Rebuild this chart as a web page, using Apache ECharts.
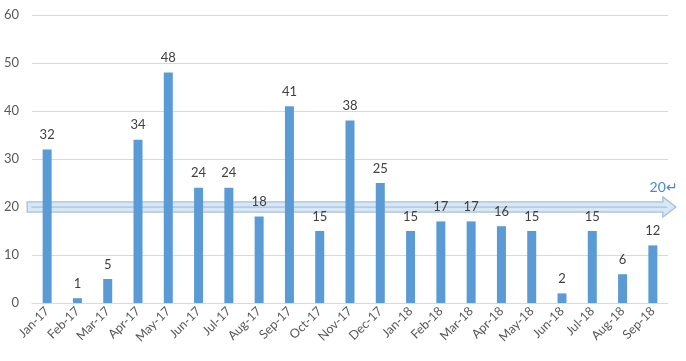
<!DOCTYPE html>
<html><head><meta charset="utf-8">
<script src="https://cdn.jsdelivr.net/npm/echarts@6/dist/echarts.min.js"></script>
<style>html,body{margin:0;padding:0;background:#fff}#c{width:686px;height:361px}</style>
</head><body><div id="c"></div>
<script>
const categories = ["Jan-17","Feb-17","Mar-17","Apr-17","May-17","Jun-17","Jul-17","Aug-17","Sep-17","Oct-17","Nov-17","Dec-17","Jan-18","Feb-18","Mar-18","Apr-18","May-18","Jun-18","Jul-18","Aug-18","Sep-18"];
const values = [32,1,5,34,48,24,24,18,41,15,38,25,15,17,17,16,15,2,15,6,12];
const yTicks = [0,10,20,30,40,50,60];
const targetValue = 20;
const targetLabel = "20\u21B5";

const font = "Lato, 'Liberation Sans', sans-serif";
const chart = echarts.init(document.getElementById('c'), null, {renderer:'canvas'});
chart.setOption({
  animation:false,
  grid:{left:32,right:18,top:15,bottom:58},
  xAxis:{type:'category',data:categories,
    axisTick:{show:false},
    axisLine:{lineStyle:{color:'#D9D9D9'}},
    axisLabel:{rotate:45,color:'#595959',fontFamily:font,fontSize:12.5,margin:6,interval:0}},
  yAxis:{type:'value',min:yTicks[0],max:yTicks[yTicks.length-1],interval:10,
    axisLine:{show:false},axisTick:{show:false},
    splitLine:{lineStyle:{color:'#D9D9D9'}},
    axisLabel:{color:'#595959',fontFamily:font,fontSize:13,margin:13}},
  series:[{type:'bar',data:values,barWidth:9,z:3,itemStyle:{color:'#5B9BD5'},
    label:{show:true,position:'top',color:'#404040',fontFamily:font,fontSize:13,distance:8}}]
});
// target arrow annotation positioned through the axes' scales
const y0 = chart.convertToPixel({yAxisIndex:0}, targetValue);
const yLo = chart.convertToPixel({yAxisIndex:0}, targetValue-1.05);
const yHi = chart.convertToPixel({yAxisIndex:0}, targetValue+1.05);
const xFirst = chart.convertToPixel({xAxisIndex:0}, 0);
const xLast = chart.convertToPixel({xAxisIndex:0}, categories.length-1);
const half = (yLo - yHi)/2;
const xs = xFirst - 20, xh = xLast + 10, xt = xLast + 23;
chart.setOption({graphic:[
  {type:'polygon',z:1,shape:{points:[[xs,y0-half],[xh,y0-half],[xh,y0-half*2],[xt,y0],[xh,y0+half*2],[xh,y0+half],[xs,y0+half]]},
   style:{fill:'rgba(189,215,238,0.6)',stroke:'rgba(160,185,215,0.9)',lineWidth:1.3}},
  {type:'line',z:1,shape:{x1:xs+4,y1:y0,x2:xh+4,y2:y0},style:{stroke:'rgba(160,185,215,0.8)',lineWidth:1}},
  {type:'text',z:5,style:{text:targetLabel,x:xt+2,y:y0-20,textAlign:'right',textVerticalAlign:'middle',fill:'#4A8AD0',font:'14px '+font}}
]});
</script></body></html>
